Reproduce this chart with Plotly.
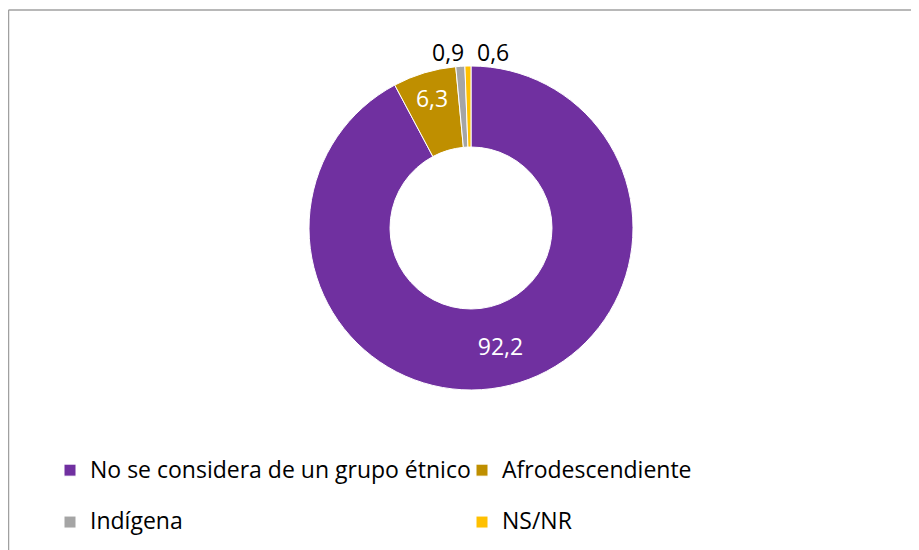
import plotly.graph_objects as go

categories = ["No se considera de un grupo étnico", "Afrodescendiente", "Indígena", "NS/NR"]
values = [92.2, 6.3, 0.9, 0.6]
colors = ["#7030A0", "#BF8F00", "#A5A5A5", "#FFC000"]
inside_mask = [True, True, False, False]

W, H = 919, 550
cx, cy, r = 463, 220, 162
FONT = "Open Sans"

# legend entries: real category text, with a blank first line to widen row spacing
legend_labels = [f" <br><span style='font-size:23px'>{c}</span>" for c in categories]
inside_text = [f"{v:.1f}".replace(".", ",") if m else "" for v, m in zip(values, inside_mask)]

fig = go.Figure()
fig.add_trace(go.Pie(
    labels=legend_labels,
    values=values,
    customdata=categories,
    text=inside_text,
    textinfo="text",
    sort=False,
    direction="clockwise",
    rotation=0,
    hole=0.5,
    marker=dict(colors=colors, line=dict(color="white", width=1)),
    textposition="inside",
    insidetextorientation="horizontal",
    textfont=dict(family=FONT, size=23, color="white"),
    hovertemplate="%{customdata}: %{value}<extra></extra>",
    domain=dict(x=[(cx - r) / W, (cx + r) / W], y=[1 - (cy + r) / H, 1 - (cy - r) / H]),
))

# outside labels for the two thin slices
outside = [(v, c) for v, c, m in zip(values, categories, inside_mask) if not m]
annotations = []
for i, (v, c) in enumerate(outside):
    annotations.append(dict(
        text=f"{v:.1f}".replace(".", ","),
        xref="paper", yref="paper",
        x=(cx - 6) / W if i == 0 else (cx + 5) / W,
        xanchor="right" if i == 0 else "left",
        y=1 - (cy - r + 3) / H, yanchor="bottom",
        showarrow=False,
        font=dict(family=FONT, size=23, color="black"),
        borderpad=0,
    ))

fig.update_layout(
    width=W, height=H,
    margin=dict(l=0, r=0, t=0, b=0),
    paper_bgcolor="white",
    font=dict(family=FONT, size=18.8, color="black"),
    showlegend=True,
    annotations=annotations,
    legend=dict(
        orientation="h",
        x=42 / W, xanchor="left",
        y=1 - 419 / H, yanchor="top",
        entrywidth=367, entrywidthmode="pixels",
        font=dict(family=FONT, size=18.8, color="black"),
        itemwidth=30,
        valign="bottom",
        bgcolor="rgba(0,0,0,0)",
        traceorder="normal",
    ),
    shapes=[
        dict(type="line", xref="paper", yref="paper", x0=0.5 / W, x1=1.0, y0=1 - 2 / H, y1=1 - 2 / H,
             line=dict(color="#A0A0A0", width=1.5)),
        dict(type="line", xref="paper", yref="paper", x0=0.5 / W, x1=0.5 / W, y0=0, y1=1 - 2 / H,
             line=dict(color="#A0A0A0", width=1.5)),
    ],
)

fig.write_html("out.html")
